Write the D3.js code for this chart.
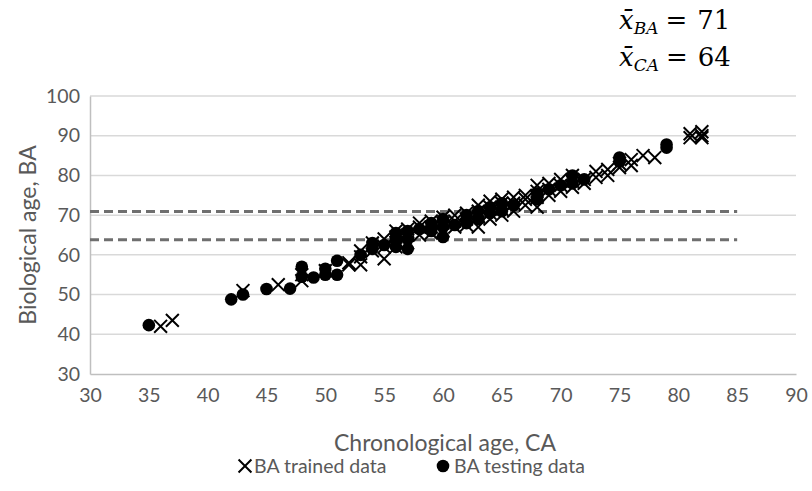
<!DOCTYPE html>
<html>
<head>
<meta charset="utf-8">
<script src="https://cdn.jsdelivr.net/npm/d3@7"></script>
<style>
  body { margin: 0; background: #fff; }
  text { font-family: Lato, "Open Sans", sans-serif; fill: #595959; }
</style>
</head>
<body>
<div id="vis"></div>
<script>
// chart box (plot area inside the 812x491 page)
const margin = { top: 96, right: 16, bottom: 117, left: 90 };
const width = 812 - margin.left - margin.right;
const height = 491 - margin.top - margin.bottom;

// tick values
const xTicks = [30, 35, 40, 45, 50, 55, 60, 65, 70, 75, 80, 85, 90];
const yTicks = [30, 40, 50, 60, 70, 80, 90, 100];

// BA trained data: [chronological age, biological age]
const trainedCA = [36, 37, 43, 46, 48, 48, 50, 52, 52, 53, 53, 53, 54, 54, 55, 55, 55,
  56, 56, 56, 57, 57, 57, 58, 58, 58, 59, 59, 59, 60, 60, 60, 61, 61, 61, 62, 62, 62,
  63, 63, 63, 63, 64, 64, 64, 64, 65, 65, 65, 65, 66, 66, 66, 67, 67, 67,
  68, 68, 68, 68, 69, 69, 69, 70, 70, 70, 71, 71, 71, 72, 72, 73, 73, 74, 74,
  75, 75, 76, 76, 77, 78, 81, 81, 82, 82, 82];
const trainedBA = [42, 43.5, 51, 52.5, 53.5, 55, 56, 57.5, 58, 57.5, 59.5, 61, 61, 63, 59, 62, 64,
  62, 64.5, 66, 63, 65, 66.5, 65, 67, 68, 65.5, 67, 68.5, 66, 68, 69.5, 67, 68.5, 70, 67.5, 69, 70.5,
  67, 69.5, 71, 72.5, 69, 70.5, 72, 73.5, 70, 71.5, 73, 74, 71, 73, 74.5, 72.5, 74, 75,
  72, 74.5, 76, 77.5, 75, 76.5, 78, 76, 77.5, 79, 77, 78.5, 80, 78, 79, 79.5, 81, 80, 81.5,
  82, 83, 82.5, 84, 85, 84.5, 89.5, 90.5, 90, 91, 89.5];

// BA testing data
const testingCA = [35, 42, 43, 45, 47, 48, 48, 49, 50, 50, 51, 51, 53, 54, 54, 55,
  56, 56, 56, 57, 57, 57, 58, 59, 59, 60, 60, 60, 61, 62, 62, 63, 63, 64, 64, 65, 65,
  66, 68, 68, 69, 70, 71, 71, 72, 75, 75, 79, 79];
const testingBA = [42.3, 48.8, 50, 51.4, 51.5, 57, 54.5, 54.3, 55, 56.5, 55, 58.5, 60, 61.5, 63, 62.5,
  62, 64, 65.5, 61.5, 64, 66, 66.5, 66, 68, 64.5, 67, 69, 67.5, 68, 70, 69, 71, 70.5, 72, 71, 73,
  72.5, 74, 75.5, 76.5, 77.5, 78, 80, 79, 83.5, 84.5, 87, 87.8];

// mean lines (dashed)
const meanLabels = ['BA', 'CA'];
const meanValues = [71, 64];
const meanLineY = [70.9, 63.8];
const meanLineX = [30, 85];

const svg = d3.select('#vis')
  .append('svg')
  .attr('width', 812)
  .attr('height', 491)
  .append('g')
  .attr('transform', `translate(${margin.left},${margin.top})`);

const xScale = d3.scaleLinear().domain([30, 90]).range([0, width]);
const yScale = d3.scaleLinear().domain([30, 100]).range([height, 0]);

// horizontal gridlines
svg.selectAll('.grid')
  .data(yTicks.filter(d => d > 30))
  .join('line')
  .attr('class', 'grid')
  .attr('x1', 0).attr('x2', width)
  .attr('y1', d => yScale(d)).attr('y2', d => yScale(d))
  .attr('stroke', '#d9d9d9')
  .attr('stroke-width', 1.5);

// axes (no tick marks, just labels)
const xAxis = svg.append('g')
  .attr('transform', `translate(0,${height})`)
  .call(d3.axisBottom(xScale).tickValues(xTicks).tickSize(0).tickPadding(14));
const yAxis = svg.append('g')
  .call(d3.axisLeft(yScale).tickValues(yTicks).tickSize(0).tickPadding(10));

[xAxis, yAxis].forEach(a => {
  a.select('.domain').attr('stroke', '#bfbfbf').attr('stroke-width', 1.5);
  a.selectAll('text').attr('fill', '#595959').style('font-size', '19.5px')
    .style('font-family', 'Lato, "Open Sans", sans-serif');
});

// dashed mean lines
const line = d3.line().x(d => xScale(d[0])).y(d => yScale(d[1]));
meanLineY.forEach(v => {
  svg.append('path')
    .datum(meanLineX.map(x => [x, v]))
    .attr('d', line)
    .attr('fill', 'none')
    .attr('stroke', '#6f6f6f')
    .attr('stroke-width', 3)
    .attr('stroke-dasharray', '9,5');
});

// testing data: filled circles
svg.selectAll('.testing')
  .data(testingCA.map((d, i) => ({ ca: d, ba: testingBA[i] })))
  .join('circle')
  .attr('class', 'testing')
  .attr('cx', d => xScale(d.ca))
  .attr('cy', d => yScale(d.ba))
  .attr('r', 6.3)
  .attr('fill', '#000');

// trained data: X markers
const xMark = d3.symbol().type(d3.symbolX).size(110);
svg.selectAll('.trained')
  .data(trainedCA.map((d, i) => ({ ca: d, ba: trainedBA[i] })))
  .join('path')
  .attr('class', 'trained')
  .attr('transform', d => `translate(${xScale(d.ca)},${yScale(d.ba)})`)
  .attr('d', xMark)
  .attr('fill', 'none')
  .attr('stroke', '#000')
  .attr('stroke-width', 2);

// axis titles
svg.append('text')
  .attr('x', width / 2 + 2)
  .attr('y', height + 77)
  .attr('text-anchor', 'middle')
  .style('font-size', '23px')
  .text('Chronological age, CA');

svg.append('text')
  .attr('transform', 'rotate(-90)')
  .attr('x', -height / 2)
  .attr('y', -54)
  .attr('text-anchor', 'middle')
  .style('font-size', '23px')
  .text('Biological age, BA');

// legend
const legend = svg.append('g').attr('transform', `translate(0,${height + 92})`);
legend.append('path')
  .attr('transform', 'translate(155,0)')
  .attr('d', xMark)
  .attr('fill', 'none').attr('stroke', '#000').attr('stroke-width', 2);
legend.append('text').attr('x', 164).attr('y', 7).style('font-size', '19.5px').text('BA trained data');
legend.append('circle').attr('cx', 353).attr('cy', 0).attr('r', 6.3).attr('fill', '#000');
legend.append('text').attr('x', 364).attr('y', 7).style('font-size', '19.5px').text('BA testing data');

// mean annotation (top right)
const note = d3.select('svg').append('g');
meanLabels.forEach((lab, i) => {
  const t = note.append('text')
    .attr('x', 619)
    .attr('y', 29 + i * 37)
    .style('font-family', '"DejaVu Serif", "Liberation Serif", serif')
    .style('font-size', '26px')
    .style('fill', '#000');
  t.append('tspan').style('font-style', 'italic').text('x\u0304');
  t.append('tspan').style('font-style', 'italic').style('font-size', '17px')
    .attr('dy', 5).text(lab);
  t.append('tspan').attr('dy', -5).attr('dx', 7).text('=');
  t.append('tspan').attr('dx', 10).text(meanValues[i]);
});
</script>
</body>
</html>
